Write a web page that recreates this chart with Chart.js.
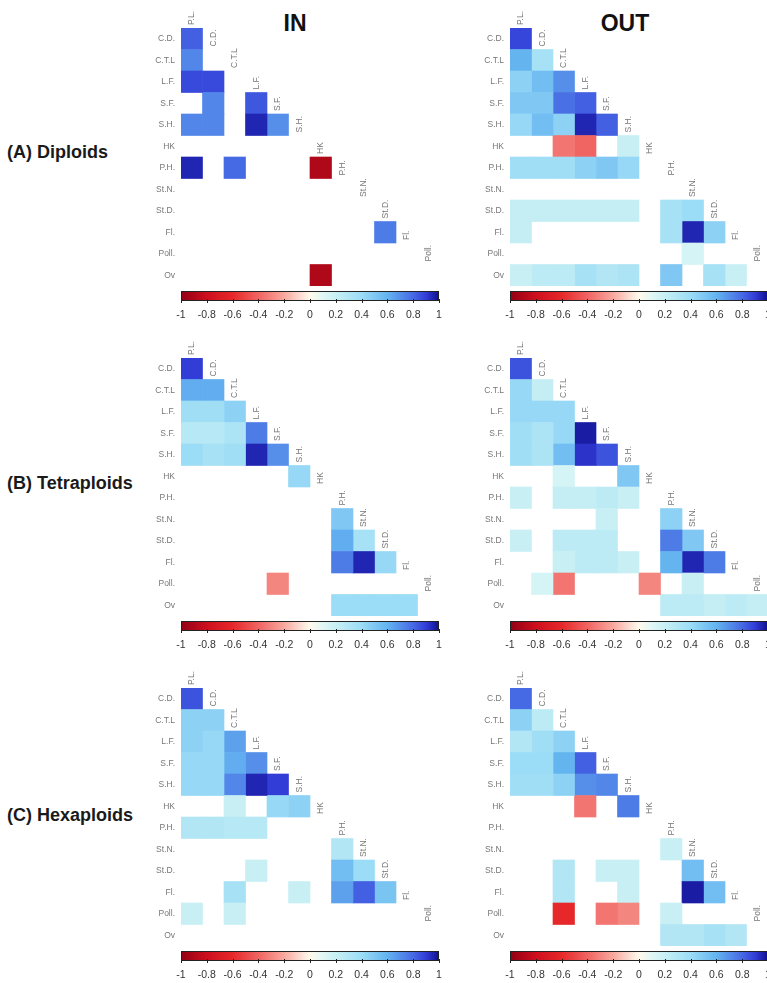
<!DOCTYPE html>
<html><head><meta charset="utf-8">
<script src="https://cdn.jsdelivr.net/npm/chart.js@4.4.1/dist/chart.umd.min.js"></script>
<style>
html,body{margin:0;padding:0;background:#fff;width:767px;height:983px;overflow:hidden;position:relative;font-family:"Liberation Sans",Arial,sans-serif;}
canvas{position:absolute;}
.t{position:absolute;font-weight:bold;color:#111;white-space:nowrap;transform:translate(-50%,-50%);font-size:23px;}
.g{position:absolute;font-weight:bold;color:#1a1a1a;white-space:nowrap;transform:translateY(-50%);font-size:18px;left:7px;}
</style></head><body>
<div class="t" style="left:295px;top:23px;">IN</div>
<div class="t" style="left:625px;top:23px;">OUT</div>
<div class="g" style="top:152px;">(A) Diploids</div>
<div class="g" style="top:483px;">(B) Tetraploids</div>
<div class="g" style="top:815px;">(C) Hexaploids</div>
<canvas id="inA" width="345" height="330" style="left:100px;top:0px"></canvas>
<canvas id="outA" width="345" height="330" style="left:429px;top:0px"></canvas>
<canvas id="inB" width="345" height="330" style="left:100px;top:330px"></canvas>
<canvas id="outB" width="345" height="330" style="left:429px;top:330px"></canvas>
<canvas id="inC" width="345" height="330" style="left:100px;top:660px"></canvas>
<canvas id="outC" width="345" height="330" style="left:429px;top:660px"></canvas>
<script>
const _ = null;
const rowLabels = ['C.D.','C.T.L','L.F.','S.F.','S.H.','HK','P.H.','St.N.','St.D.','Fl.','Poll.','Ov'];
const colLabels = ['P.L.','C.D.','C.T.L','L.F.','S.F.','S.H.','HK','P.H.','St.N.','St.D.','Fl.','Poll.'];
const colorbarTicks = [-1,-0.8,-0.6,-0.4,-0.2,0,0.2,0.4,0.6,0.8,1];

// correlation values, lower triangle (row i has i+1 cells); null = not significant (blank)
const diploidIN = [
  [0.82],
  [0.72,_],
  [0.87,0.87,_],
  [_,0.72,_,0.84],
  [0.72,0.72,_,0.95,0.7],
  [_,_,_,_,_,_],
  [0.95,_,0.8,_,_,_,-0.9],
  [_,_,_,_,_,_,_,_],
  [_,_,_,_,_,_,_,_,_],
  [_,_,_,_,_,_,_,_,_,0.75],
  [_,_,_,_,_,_,_,_,_,_,_],
  [_,_,_,_,_,_,-0.9,_,_,_,_,_]
];
const diploidOUT = [
  [0.88],
  [0.6,0.35],
  [0.45,0.55,0.7],
  [0.5,0.5,0.78,0.82],
  [0.42,0.55,0.45,0.95,0.82],
  [_,_,-0.35,-0.4,_,0.2],
  [0.38,0.38,0.38,0.45,0.5,0.42,_],
  [_,_,_,_,_,_,_,_],
  [0.22,0.22,0.22,0.22,0.22,0.22,_,0.35,0.4],
  [0.22,_,_,_,_,_,_,0.35,0.95,0.45],
  [_,_,_,_,_,_,_,_,0.15,_,_],
  [0.2,0.25,0.25,0.35,0.3,0.32,_,0.5,_,0.35,0.2,_]
];
const tetraploidIN = [
  [0.9],
  [0.62,0.62],
  [0.38,0.38,0.45],
  [0.28,0.28,0.32,0.75],
  [0.4,0.35,0.38,0.95,0.7],
  [_,_,_,_,_,0.42],
  [_,_,_,_,_,_,_],
  [_,_,_,_,_,_,_,0.5],
  [_,_,_,_,_,_,_,0.62,0.35],
  [_,_,_,_,_,_,_,0.75,0.95,0.42],
  [_,_,_,_,-0.3,_,_,_,_,_,_],
  [_,_,_,_,_,_,_,0.4,0.4,0.4,0.4,_]
];
const tetraploidOUT = [
  [0.85],
  [0.42,0.22],
  [0.42,0.42,0.42],
  [0.38,0.32,0.42,0.97],
  [0.38,0.32,0.55,0.92,0.85],
  [_,_,0.15,_,_,0.5],
  [0.2,_,0.22,0.22,0.25,0.2,_],
  [_,_,_,_,0.2,_,_,0.45],
  [0.2,_,0.25,0.25,0.25,_,_,0.75,0.5],
  [_,_,0.2,0.25,0.25,0.2,_,0.6,0.95,0.75],
  [_,0.15,-0.35,_,_,_,-0.3,_,0.2,_,_],
  [_,_,_,_,_,_,_,0.25,0.25,0.22,0.25,0.22]
];
const hexaploidIN = [
  [0.85],
  [0.45,0.45],
  [0.45,0.42,0.65],
  [0.42,0.42,0.62,0.7],
  [0.42,0.42,0.72,0.95,0.9],
  [_,_,0.2,_,0.42,0.45],
  [0.3,0.3,0.28,0.28,_,_,_],
  [_,_,_,_,_,_,_,0.3],
  [_,_,_,0.2,_,_,_,0.55,0.4],
  [_,_,0.35,_,_,0.2,_,0.65,0.82,0.52],
  [0.2,_,0.2,_,_,_,_,_,_,_,_],
  [_,_,_,_,_,_,_,_,_,_,_,_]
];
const hexaploidOUT = [
  [0.8],
  [0.45,0.25],
  [0.3,0.38,0.45],
  [0.4,0.4,0.6,0.82],
  [0.38,0.38,0.45,0.7,0.72],
  [_,_,_,-0.35,_,0.75],
  [_,_,_,_,_,_,_],
  [_,_,_,_,_,_,_,0.2],
  [_,_,0.3,_,0.2,0.2,_,_,0.55],
  [_,_,0.3,_,_,0.2,_,_,0.97,0.55],
  [_,_,-0.6,_,-0.35,-0.3,_,0.2,_,_,_],
  [_,_,_,_,_,_,_,0.3,0.3,0.35,0.3,_]
];

// colour map (style)
const cmapStops = [
  [-1,[145,0,20]],[-0.8,[205,15,30]],[-0.6,[230,40,42]],[-0.4,[240,100,98]],
  [-0.2,[248,168,158]],[-0.05,[253,230,220]],[0,[255,250,235]],[0.1,[225,247,246]],
  [0.2,[200,240,244]],[0.4,[155,220,246]],[0.6,[100,180,240]],[0.8,[70,105,228]],
  [0.9,[50,60,215]],[1,[15,15,140]]
];
function cmap(v){
  for(let k=1;k<cmapStops.length;k++){
    const [v1,c1]=cmapStops[k-1],[v2,c2]=cmapStops[k];
    if(v<=v2){
      const t=(v-v1)/(v2-v1);
      return 'rgb('+c1.map((c,i)=>Math.round(c+(c2[i]-c)*t)).join(',')+')';
    }
  }
  return 'rgb('+cmapStops[cmapStops.length-1][1].join(',')+')';
}

// fixed plot box inside each canvas (left edge and width of the cell grid)
const PLOT_LEFT = 81, PLOT_WIDTH = 258;

const decor = {
  id:'decor',
  afterDraw(chart){
    const {ctx, chartArea, scales} = chart;
    const xs=scales.x, ys=scales.y, cb=scales.cb;
    const rowH=(chartArea.bottom-chartArea.top)/rowLabels.length;
    ctx.save();
    ctx.font='8.5px "Liberation Sans", Arial, sans-serif';
    ctx.fillStyle='#777';
    ctx.textBaseline='middle';
    ctx.textAlign='left';
    colLabels.forEach((lab,j)=>{
      const x=xs.getPixelForValue(j+0.5);
      const yTop=ys.getPixelForValue(j)-rowH/2;
      ctx.save();
      ctx.translate(x,yTop-3);
      ctx.rotate(-Math.PI/2);
      ctx.fillText(lab,0,0);
      ctx.restore();
    });
    const y0=chartArea.bottom+5, h=10;
    const g=ctx.createLinearGradient(cb.left,0,cb.right,0);
    cmapStops.forEach(([v,c])=>g.addColorStop((v+1)/2,'rgb('+c.join(',')+')'));
    ctx.fillStyle=g;
    ctx.fillRect(cb.left,y0,cb.right-cb.left,h);
    ctx.strokeStyle='#222';ctx.lineWidth=1;
    ctx.strokeRect(cb.left+0.5,y0+0.5,cb.right-cb.left-1,h-1);
    colorbarTicks.forEach(v=>{
      const x=Math.round(cb.getPixelForValue(v))+0.5;
      ctx.beginPath();ctx.moveTo(x,y0+h-2);ctx.lineTo(x,y0+h+2);ctx.stroke();
    });
    ctx.restore();
  }
};

// forces the plot box to an exact horizontal extent after layout
const fixBox = {
  id:'fixBox',
  afterLayout(chart){
    const a = chart.chartArea;
    a.left = PLOT_LEFT; a.right = PLOT_LEFT + PLOT_WIDTH; a.width = PLOT_WIDTH;
    ['x','cb'].forEach(id=>{
      const s = chart.scales[id];
      s.left = PLOT_LEFT; s.right = PLOT_LEFT + PLOT_WIDTH; s.width = PLOT_WIDTH;
      s.configure();
    });
    const y = chart.scales.y;
    y.left = 0; y.right = PLOT_LEFT; y.width = PLOT_LEFT;
  }
};

function makePanel(id, matrix){
  const datasets = colLabels.map((c,j)=>({
    label:c,
    xAxisID:'x', yAxisID:'y',
    data: matrix.map(row => (row[j]!==undefined && row[j]!==null) ? [j, j+1] : null),
    backgroundColor: matrix.map(row => (row[j]!==undefined && row[j]!==null) ? cmap(row[j]) : 'rgba(0,0,0,0)'),
    borderWidth:0,
    barPercentage:1, categoryPercentage:1, grouped:false
  }));
  new Chart(document.getElementById(id), {
    type:'bar',
    data:{labels:rowLabels, datasets},
    options:{
      responsive:false, animation:false, devicePixelRatio:1,
      indexAxis:'y',
      layout:{padding:{top:28,right:6,bottom:0,left:0}},
      plugins:{legend:{display:false},tooltip:{enabled:false},title:{display:false}},
      scales:{
        x:{type:'linear',min:0,max:12,display:false},
        y:{type:'category',offset:true,grid:{display:false,drawTicks:false},border:{display:false},
           ticks:{font:{size:8.5,family:'"Liberation Sans", Arial, sans-serif'},color:'#777',padding:6,autoSkip:false},
           afterFit(s){s.width=PLOT_LEFT;}},
        cb:{type:'linear',axis:'x',position:'bottom',min:-1,max:1,
            grid:{display:false,drawTicks:false},border:{display:false},
            afterBuildTicks(s){s.ticks=colorbarTicks.map(v=>({value:v}));},
            ticks:{font:{size:10.5,family:'"Liberation Sans", Arial, sans-serif'},color:'#333',padding:23,autoSkip:false,maxRotation:0,
                   callback:v=>String(v)},
            afterFit(s){s.height=44;}}
      }
    },
    plugins:[fixBox, decor]
  });
}
makePanel('inA', diploidIN);
makePanel('outA', diploidOUT);
makePanel('inB', tetraploidIN);
makePanel('outB', tetraploidOUT);
makePanel('inC', hexaploidIN);
makePanel('outC', hexaploidOUT);
</script>
</body></html>
